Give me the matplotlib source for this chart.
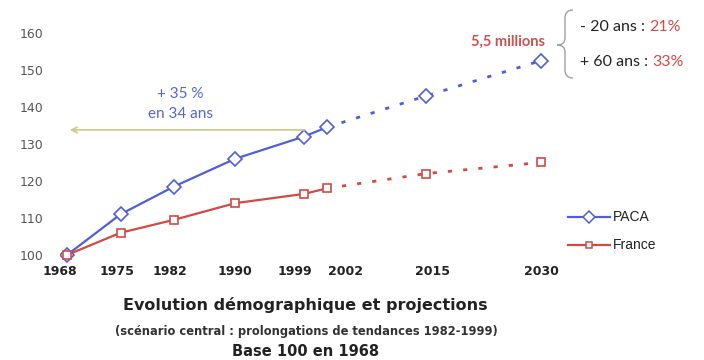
import numpy as np
import matplotlib.pyplot as plt
from matplotlib.path import Path
from matplotlib.patches import PathPatch

years = [1968, 1975, 1982, 1990, 1999, 2002, 2015, 2030]
paca = [100, 111, 118.5, 126, 132, 134.5, 143, 152.5]
france = [100, 106, 109.5, 114, 116.5, 118, 122, 125]
n_obs = 6  # points observed (through 2002), the rest are projections
y_ticks = [100, 110, 120, 130, 140, 150, 160]

blue = '#4f5fd6'
red = '#d24a44'

W, H = 704, 360
def fx(px): return px / W
def fy(py): return 1 - py / H

fig = plt.figure(figsize=(7.04, 3.6), dpi=100)
ax = fig.add_axes([fx(60), fy(262), 500/W, 242/H])
ax.set_xlim(1967.08, 2032.5)
ax.set_ylim(98.1, 163.5)

for vals, col, mk, ms in [(paca, blue, 'D', 7.5), (france, red, 's', 5.5)]:
    ax.plot(years[:n_obs], vals[:n_obs], color=col, lw=1.6, zorder=2)
    ax.plot(years[n_obs-1:], vals[n_obs-1:], color=col, lw=2, ls=(0, (1.5, 4)), zorder=2)
    ax.plot(years, vals, ls='none', marker=mk, ms=ms, mfc='white', mec=col, mew=1.2, zorder=3)

# arrow showing +35 % since 1968
ax.annotate('', xy=(1968, 133.8), xytext=(1999.5, 133.8),
            arrowprops=dict(arrowstyle='->', color='#c9c98a', lw=1.2))
ax.text(1982.8, 140.8, '+ 35 %\nen 34 ans', color='#5566cf', ha='center', va='center',
        fontsize=11, family='Lato', linespacing=1.5)
ax.text(2030.6, 157.6, '5,5 millions', color='#d05050', ha='right', va='center',
        fontsize=10.5, family='Lato', fontweight='bold')

# x labels: a few are nudged sideways so 1999 and 2002 do not collide
ax.set_xticks(years)
ax.set_xticklabels([])
label_shift = [-7, -4, -4, 0, -9, 19, 6, 1]
for yr, dx in zip(years, label_shift):
    ax.annotate(str(yr), xy=(yr, 0), xycoords=ax.get_xaxis_transform(), xytext=(dx, -3),
                textcoords='offset pixels', ha='center', va='top', fontsize=9,
                fontweight='bold', color='#222222', annotation_clip=False)
ax.set_yticks(y_ticks)
ax.set_yticklabels([str(v) for v in y_ticks], fontsize=9, color='#555555')
ax.tick_params(length=0, pad=2)
ax.tick_params(axis='y', pad=12)
for s in ax.spines.values():
    s.set_visible(False)

# curly brace
bx = [573, 565, 565, 565, 565, 557, 565, 565, 565, 565, 573]
by = [10, 10, 18, 38, 45, 45, 45, 52, 70, 78, 78]
codes = [Path.MOVETO, Path.CURVE3, Path.CURVE3, Path.LINETO, Path.CURVE3, Path.CURVE3,
         Path.CURVE3, Path.CURVE3, Path.LINETO, Path.CURVE3, Path.CURVE3]
brace = Path(np.column_stack([[fx(v) for v in bx], [fy(v) for v in by]]), codes)
fig.add_artist(PathPatch(brace, fc='none', ec='#a0a0a0', lw=1.0, transform=fig.transFigure))

for yy, lab, val in [(27, '- 20 ans : ', '21%'), (62, '+ 60 ans : ', '33%')]:
    t = fig.text(fx(580), fy(yy), lab, fontsize=11.5, family='Lato', va='center', color='#222222')
    ax.annotate(val, xy=(1, 0.5), xycoords=t, va='center', fontsize=11.5,
                family='Lato', color=red, annotation_clip=False)

# legend
lx0, lx1 = fx(568), fx(610)
for k, (lab, col, mk, ms) in enumerate([('PACA', blue, 'D', 6), ('France', red, 's', 5)]):
    yy = fy(217 + 28*k)
    fig.add_artist(plt.Line2D([lx0, lx1], [yy, yy], color=col, lw=1.6))
    fig.add_artist(plt.Line2D([(lx0 + lx1)/2], [yy], marker=mk, ms=ms, mfc='white', mec=col, mew=1.1))
    fig.text(fx(613), yy, lab, fontsize=10, family='Liberation Sans', va='center', color='#222222')

fig.text(fx(305), fy(305), 'Evolution démographique et projections', ha='center', va='center',
         fontsize=11.5, fontweight='bold', family='DejaVu Sans', color='#222222')
fig.text(fx(306), fy(332), '(scénario central : prolongations de tendances 1982-1999)',
         ha='center', va='center', fontsize=8.3, fontweight='bold', family='DejaVu Sans', color='#333333')
fig.text(fx(306), fy(351), 'Base 100 en 1968', ha='center', va='center',
         fontsize=10.5, fontweight='bold', family='DejaVu Sans', color='#222222')

fig.savefig('out.png', dpi=100)
